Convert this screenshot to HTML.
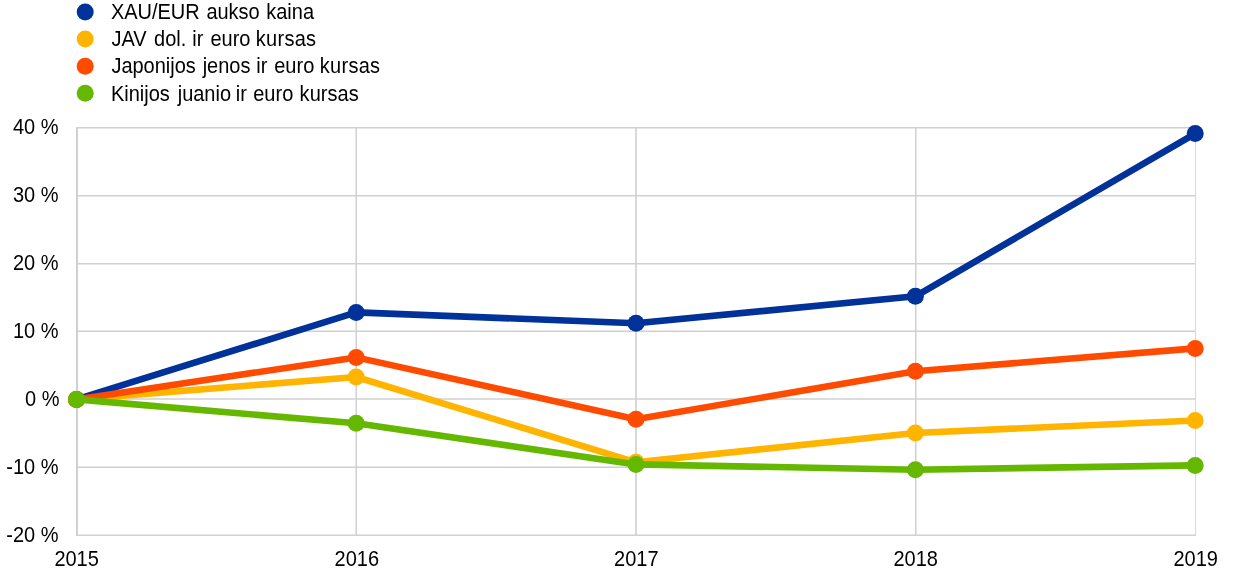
<!DOCTYPE html>
<html><head><meta charset="utf-8"><title>Chart</title>
<style>
html,body{margin:0;padding:0;background:#fff;}
body{width:1240px;height:578px;overflow:hidden;}
svg{display:block}
text{font-family:"Liberation Sans",Arial,sans-serif;font-size:20px;fill:#000;}
</style></head><body>
<svg width="1240" height="578" viewBox="0 0 1240 578">
<rect width="1240" height="578" fill="#fff"/>

<line x1="76" x2="1196" y1="127.75" y2="127.75" stroke="#d0d0d0" stroke-width="1.5"/>
<line x1="76" x2="1196" y1="195.75" y2="195.75" stroke="#d0d0d0" stroke-width="1.5"/>
<line x1="76" x2="1196" y1="263.75" y2="263.75" stroke="#d0d0d0" stroke-width="1.5"/>
<line x1="76" x2="1196" y1="331.25" y2="331.25" stroke="#d0d0d0" stroke-width="1.5"/>
<line x1="76" x2="1196" y1="399.00" y2="399.00" stroke="#d0d0d0" stroke-width="1.5"/>
<line x1="76" x2="1196" y1="467.25" y2="467.25" stroke="#d0d0d0" stroke-width="1.5"/>
<line x1="76" x2="1196" y1="535.25" y2="535.25" stroke="#d0d0d0" stroke-width="1.5"/>
<line x1="77.0" x2="77.0" y1="127" y2="536" stroke="#d0d0d0" stroke-width="2"/>
<line x1="356.25" x2="356.25" y1="127" y2="536" stroke="#d0d0d0" stroke-width="1.5"/>
<line x1="636.0" x2="636.0" y1="127" y2="536" stroke="#d0d0d0" stroke-width="1.6"/>
<line x1="915.75" x2="915.75" y1="127" y2="536" stroke="#d0d0d0" stroke-width="1.5"/>
<line x1="1195.5" x2="1195.5" y1="127" y2="536" stroke="#d9d9d9" stroke-width="1"/>
<text transform="translate(58.50,134.45) scale(1,1.08)" text-anchor="end">40 %</text>
<text transform="translate(58.50,202.45) scale(1,1.08)" text-anchor="end">30 %</text>
<text transform="translate(58.50,270.45) scale(1,1.08)" text-anchor="end">20 %</text>
<text transform="translate(58.50,337.95) scale(1,1.08)" text-anchor="end">10 %</text>
<text transform="translate(59.40,405.70) scale(1,1.08)" text-anchor="end">0 %</text>
<text transform="translate(58.50,473.95) scale(1,1.08)" text-anchor="end">-10 %</text>
<text transform="translate(58.50,541.95) scale(1,1.08)" text-anchor="end">-20 %</text>
<text transform="translate(76.60,566.00) scale(1,1.08)" text-anchor="middle">2015</text>
<text transform="translate(356.80,566.00) scale(1,1.08)" text-anchor="middle">2016</text>
<text transform="translate(636.30,566.00) scale(1,1.08)" text-anchor="middle">2017</text>
<text transform="translate(915.70,566.00) scale(1,1.08)" text-anchor="middle">2018</text>
<text transform="translate(1195.70,566.00) scale(1,1.08)" text-anchor="middle">2019</text>
<polyline points="76.5,399.4 356.2,312.4 636.0,323.3 915.4,296.3 1195.2,133.6" fill="none" stroke="#003299" stroke-width="6.6" stroke-linejoin="round"/>
<circle cx="76.5" cy="399.4" r="8.5" fill="#003299"/>
<circle cx="356.2" cy="312.4" r="8.5" fill="#003299"/>
<circle cx="636.0" cy="323.3" r="8.5" fill="#003299"/>
<circle cx="915.4" cy="296.3" r="8.5" fill="#003299"/>
<circle cx="1195.2" cy="133.6" r="8.5" fill="#003299"/>
<polyline points="76.5,399.4 356.2,377.0 636.0,462.3 915.4,433.0 1195.2,420.5" fill="none" stroke="#ffb400" stroke-width="6.6" stroke-linejoin="round"/>
<circle cx="76.5" cy="399.4" r="8.5" fill="#ffb400"/>
<circle cx="356.2" cy="377.0" r="8.5" fill="#ffb400"/>
<circle cx="636.0" cy="462.3" r="8.5" fill="#ffb400"/>
<circle cx="915.4" cy="433.0" r="8.5" fill="#ffb400"/>
<circle cx="1195.2" cy="420.5" r="8.5" fill="#ffb400"/>
<polyline points="76.5,399.4 356.2,357.4 636.0,419.3 915.4,371.2 1195.2,348.4" fill="none" stroke="#ff4b00" stroke-width="6.6" stroke-linejoin="round"/>
<circle cx="76.5" cy="399.4" r="8.5" fill="#ff4b00"/>
<circle cx="356.2" cy="357.4" r="8.5" fill="#ff4b00"/>
<circle cx="636.0" cy="419.3" r="8.5" fill="#ff4b00"/>
<circle cx="915.4" cy="371.2" r="8.5" fill="#ff4b00"/>
<circle cx="1195.2" cy="348.4" r="8.5" fill="#ff4b00"/>
<polyline points="76.5,399.4 356.2,423.3 636.0,464.4 915.4,469.7 1195.2,465.4" fill="none" stroke="#65b800" stroke-width="6.6" stroke-linejoin="round"/>
<circle cx="76.5" cy="399.4" r="8.5" fill="#65b800"/>
<circle cx="356.2" cy="423.3" r="8.5" fill="#65b800"/>
<circle cx="636.0" cy="464.4" r="8.5" fill="#65b800"/>
<circle cx="915.4" cy="469.7" r="8.5" fill="#65b800"/>
<circle cx="1195.2" cy="465.4" r="8.5" fill="#65b800"/>
<circle cx="85.2" cy="11.9" r="8.5" fill="#003299"/>
<text transform="translate(110.90,18.90) scale(1,1.08)" text-anchor="start"><tspan>XAU/EUR</tspan> <tspan dx="1.1">aukso</tspan> <tspan dx="1.0">kaina</tspan></text>
<circle cx="85.2" cy="39.1" r="8.5" fill="#ffb400"/>
<text transform="translate(111.40,45.90) scale(1,1.08)" text-anchor="start"><tspan>JAV</tspan> <tspan dx="1.9">dol.</tspan> <tspan dx="0.5">ir</tspan> <tspan dx="1.5">euro</tspan> <tspan dx="-0.2" letter-spacing="0.28">kursas</tspan></text>
<circle cx="85.2" cy="66.3" r="8.5" fill="#ff4b00"/>
<text transform="translate(111.40,73.30) scale(1,1.08)" text-anchor="start"><tspan>Japonijos</tspan> <tspan dx="1.3">jenos</tspan> <tspan dx="0.3">ir</tspan> <tspan dx="1.3">euro</tspan> <tspan letter-spacing="0.28">kursas</tspan></text>
<circle cx="85.2" cy="93.3" r="8.5" fill="#65b800"/>
<text transform="translate(110.90,100.50) scale(1,1.08)" text-anchor="start"><tspan>Kinijos</tspan> <tspan dx="2.4">juanio</tspan> <tspan dx="-0.9">ir</tspan> <tspan dx="0.9">euro</tspan> <tspan dx="0.8" letter-spacing="0.05">kursas</tspan></text>
</svg></body></html>
